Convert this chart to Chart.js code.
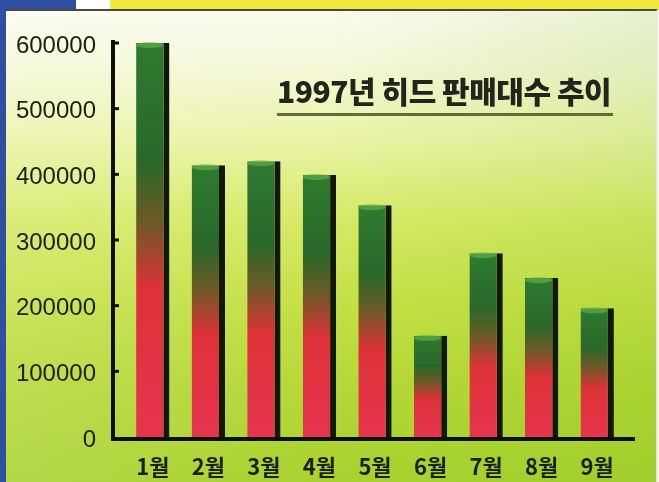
<!DOCTYPE html>
<html>
<head>
<meta charset="utf-8">
<script src="https://cdn.jsdelivr.net/npm/chart.js@4.4.1/dist/chart.umd.min.js"></script>
<style>
  html, body { margin: 0; padding: 0; }
  body { width: 659px; height: 482px; overflow: hidden; position: relative; background: #fff; }
  #topBlue { position: absolute; left: 0; top: 0; width: 76px; height: 10px; background: #2f4fa3; }
  #topYellow { position: absolute; left: 110px; top: 0; width: 549px; height: 10px; background: #f1e93e; }
  #leftBlue { position: absolute; left: 0; top: 0; width: 6px; height: 482px; background: #2f4fa3; }
  #panel {
    position: absolute; left: 6px; top: 9px; width: 650px; height: 473px;
    border-top: 2px solid #4a4a3a; border-right: 2px solid #e8eed0;
    background:
      linear-gradient(90deg, rgba(255,255,255,0.12) 0%, rgba(255,255,255,0) 50%, rgba(110,180,20,0.14) 100%),
      linear-gradient(180deg, #fbfbf0 0%, #f6f8dc 10%, #ecf4ac 26%, #d6ea66 44%, #c4e046 62%, #b4d836 80%, #a9d22f 100%);
  }
  #title {
    position: absolute; left: 277px; top: 70px; width: 336px;
    font-family: "Noto Sans CJK KR", sans-serif; font-weight: 900; font-size: 30px;
    color: #22251a; letter-spacing: -0.5px; white-space: nowrap; line-height: 40px;
    border-bottom: 3px solid #5e6e34; padding-bottom: 3px;
  }
  #wrap { position: absolute; left: 0; top: 0; width: 659px; height: 482px; }
</style>
</head>
<body>
<div id="leftBlue"></div>
<div id="topBlue"></div>
<div id="topYellow"></div>
<div id="panel"></div>
<div id="wrap"><canvas id="salesChart" width="659" height="482"></canvas></div>
<div id="title">1997년 히드 판매대수 추이</div>
<script>
// 월별 판매대수
const months = ['1월', '2월', '3월', '4월', '5월', '6월', '7월', '8월', '9월'];
const sales = [600000, 414000, 420000, 399000, 353000, 154000, 280000, 242000, 196000];
const yTicks = [0, 100000, 200000, 300000, 400000, 500000, 600000];

// 막대 색: 위는 초록, 아래는 빨강
function barGradient(context) {
  const chart = context.chart;
  const yScale = chart.scales.y;
  if (!yScale || context.dataIndex === undefined) return '#2b6b2a';
  const top = yScale.getPixelForValue(sales[context.dataIndex]);
  const base = yScale.getPixelForValue(0);
  if (!isFinite(top) || !isFinite(base) || top === base) return '#2b6b2a';
  const g = chart.ctx.createLinearGradient(0, top, 0, base);
  g.addColorStop(0, '#2e7a30');
  g.addColorStop(0.3, '#2a682a');
  g.addColorStop(0.45, '#6a5a26');
  g.addColorStop(0.62, '#dc3238');
  g.addColorStop(1, '#e6344e');
  return g;
}

// 축선, 눈금, 막대 윗면
const axisPlugin = {
  id: 'axisPlugin',
  afterDatasetsDraw(chart) {
    const ctx = chart.ctx;
    const y = chart.scales.y;
    const area = chart.chartArea;
    const meta = chart.getDatasetMeta(0);
    ctx.save();
    meta.data.forEach(bar => {
      const w = bar.width;
      const left = bar.x - w / 2;
      ctx.fillStyle = 'rgba(110,180,80,0.6)';
      ctx.beginPath();
      ctx.ellipse(left + (w - 6) / 2, bar.y + 2, (w - 6) / 2, 3, 0, 0, Math.PI * 2);
      ctx.fill();
    });
    const axisX = area.left - 12;
    const base = y.getPixelForValue(0);
    const top = y.getPixelForValue(600000);
    ctx.fillStyle = '#0e0f08';
    ctx.fillRect(axisX - 2, top - 3, 4, base - top + 6);
    ctx.fillRect(axisX - 2, base, area.right + 12 - axisX, 4);
    yTicks.forEach(v => {
      if (v === 0) return;
      ctx.fillRect(axisX, y.getPixelForValue(v) - 1.5, 6, 3);
    });
    ctx.restore();
  }
};

new Chart(document.getElementById('salesChart'), {
  type: 'bar',
  data: {
    labels: months,
    datasets: [{
      data: sales,
      backgroundColor: barGradient,
      borderColor: '#101808',
      borderWidth: { top: 0, left: 0, bottom: 0, right: 6 },
      borderSkipped: false,
      barPercentage: 1,
      categoryPercentage: 0.6
    }]
  },
  options: {
    responsive: false,
    animation: false,
    devicePixelRatio: 1,
    layout: { padding: { top: 43, right: 34, left: 0, bottom: 0 } },
    plugins: { legend: { display: false }, tooltip: { enabled: false } },
    scales: {
      x: {
        offset: true,
        grid: { display: false },
        border: { display: false },
        ticks: {
          padding: 8,
          color: '#1c2010',
          font: { family: '"Noto Sans CJK KR", sans-serif', size: 22, weight: 'bold' }
        },
        afterFit(scale) { scale.height = 45; }
      },
      y: {
        min: 0,
        max: 600000,
        grid: { display: false },
        border: { display: false },
        afterBuildTicks(scale) { scale.ticks = yTicks.map(v => ({ value: v })); },
        ticks: {
          padding: 21,
          labelOffset: 3,
          color: '#1c2010',
          font: { family: '"Liberation Sans", Arial, sans-serif', size: 24 },
          callback: v => String(v)
        },
        afterFit(scale) { scale.width = 125; }
      }
    }
  },
  plugins: [axisPlugin]
});
</script>
</body>
</html>
